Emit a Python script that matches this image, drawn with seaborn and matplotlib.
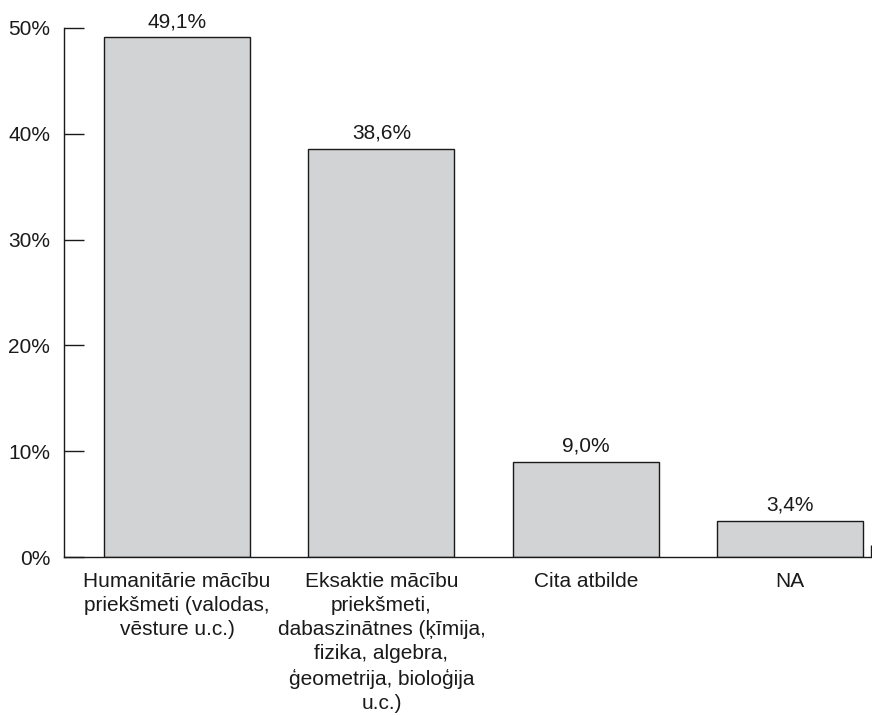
import matplotlib
matplotlib.use("Agg")
import matplotlib.pyplot as plt
import seaborn as sns
import pandas as pd

# Chart data
categories = [
    "Humanitārie mācību\npriekšmeti (valodas,\nvēsture u.c.)",
    "Eksaktie mācību\npriekšmeti,\ndabaszinātnes (ķīmija,\nfizika, algebra,\nģeometrija, bioloģija\nu.c.)",
    "Cita atbilde",
    "NA",
]
values = [49.1, 38.6, 9.0, 3.4]
value_labels = ["49,1%", "38,6%", "9,0%", "3,4%"]
y_ticks = [0, 10, 20, 30, 40, 50]
y_tick_labels = ["0%", "10%", "20%", "30%", "40%", "50%"]

sns.set_style("white")
plt.rcParams["font.family"] = ["Liberation Sans", "DejaVu Sans"]

df = pd.DataFrame({"cat": categories, "val": values})

fig = plt.figure(figsize=(8.72, 7.16), dpi=100)
ax = fig.add_axes([0.0734, 0.222, 0.9255, 0.739])

sns.barplot(data=df, x="cat", y="val", color="#d2d3d5", saturation=1,
            width=0.714, edgecolor="#1a1a1a", linewidth=1.0, ax=ax)

for i, (v, lab) in enumerate(zip(values, value_labels)):
    ax.text(i, v + 0.6, lab, ha="center", va="bottom", fontsize=15, color="#1a1a1a")

ax.set_xlim(-0.553, 3.396)
ax.set_ylim(0, 50)
ax.set_yticks(y_ticks)
ax.set_yticklabels(y_tick_labels, fontsize=15, color="#1a1a1a")
ax.set_xticks(range(len(categories)))
ax.set_xticklabels(categories, fontsize=15, color="#1a1a1a", linespacing=1.35)
ax.set_xlabel("")
ax.set_ylabel("")

ax.tick_params(axis="y", left=True, direction="in", length=14.4, width=1.0,
               color="#1a1a1a", pad=10)
ax.tick_params(axis="x", which="major", bottom=False, pad=7)
# small closing tick at the right end of the x axis
ax.set_xticks([3.396], minor=True)
ax.tick_params(axis="x", which="minor", bottom=True, direction="in", length=9,
               width=1.0, color="#1a1a1a")

sns.despine(ax=ax, top=True, right=True)
for s in ["left", "bottom"]:
    ax.spines[s].set_color("#1a1a1a")
    ax.spines[s].set_linewidth(1.0)

fig.savefig("out.png", dpi=100)
